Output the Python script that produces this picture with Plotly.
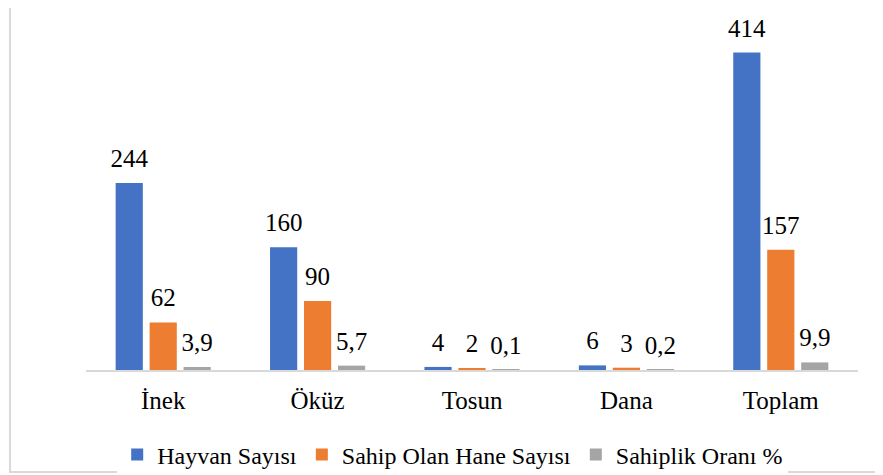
import plotly.graph_objects as go

categories = ["İnek", "Öküz", "Tosun", "Dana", "Toplam"]
hayvan_sayisi = [244, 160, 4, 6, 414]
sahip_hane = [62, 90, 2, 3, 157]
sahiplik_orani = [3.9, 5.7, 0.1, 0.2, 9.9]

series = [
    ("Hayvan Sayısı", hayvan_sayisi, "#4472C4"),
    ("Sahip Olan Hane Sayısı", sahip_hane, "#ED7D31"),
    ("Sahiplik Oranı %", sahiplik_orani, "#A5A5A5"),
]

SERIF = "Liberation Serif, Times New Roman, serif"
GAP = 0.34

def fmt(v):
    if float(v).is_integer():
        return str(int(v))
    return str(v).replace(".", ",")

fig = go.Figure()
for i, (name, vals, color) in enumerate(series):
    fig.add_trace(go.Bar(
        x=categories, y=vals, name=name,
        marker=dict(color=color, line=dict(width=0)),
        offsetgroup=str(i),
    ))
for i, (name, vals, color) in enumerate(series):
    fig.add_trace(go.Scatter(
        x=categories, y=vals, mode="markers+text",
        marker=dict(size=14, opacity=0),
        text=[fmt(v) for v in vals],
        textposition="top center",
        textfont=dict(family=SERIF, size=25, color="#000000"),
        offsetgroup=str(i),
        showlegend=False, hoverinfo="skip", cliponaxis=False,
    ))

fig.update_layout(
    width=883, height=475,
    margin=dict(l=78, r=33, t=17, b=113, autoexpand=False),
    paper_bgcolor="white", plot_bgcolor="white",
    barmode="group", bargap=GAP, bargroupgap=0.2,
    scattermode="group", scattergap=GAP,
    font=dict(family=SERIF, color="#000000"),
    showlegend=True,
    legend=dict(orientation="h", x=0.475, xanchor="center", y=-0.246, yanchor="middle",
                font=dict(family=SERIF, size=24, color="#000000"),
                itemwidth=30, traceorder="normal"),
    xaxis=dict(showline=True, linecolor="#D9D9D9", linewidth=1.5,
               ticks="", showgrid=False, zeroline=False, automargin=False,
               tickfont=dict(family=SERIF, size=25, color="#000000"),
               ticklabelstandoff=7),
    yaxis=dict(range=[0, 450], visible=False, showgrid=False, zeroline=False),
)

fig.add_shape(type="rect", xref="paper", yref="paper",
              x0=-0.0984, x1=1.05, y0=-0.2957, y1=1.0638,
              line=dict(color="#D9D9D9", width=2), fillcolor="rgba(0,0,0,0)", layer="below")

fig.write_html("out.html")
